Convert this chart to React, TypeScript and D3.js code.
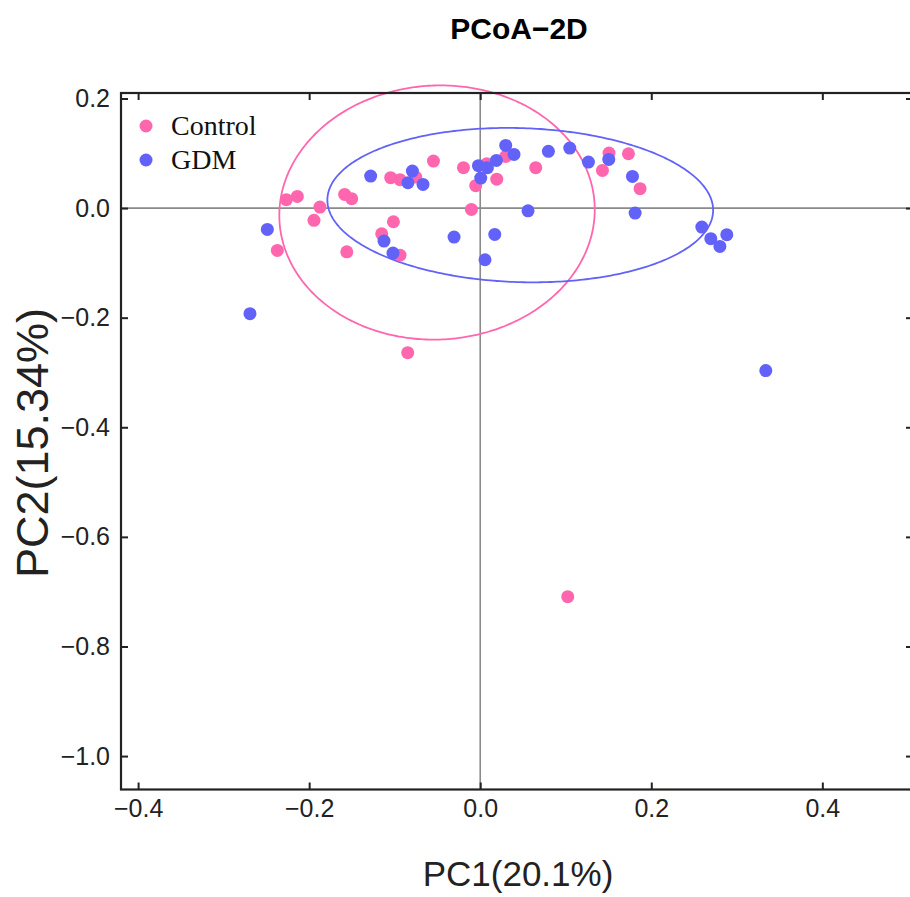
import React, { useEffect, useRef } from 'react';
import * as d3 from 'd3';

// sample scores (PC1, PC2)
const controlPC1 = [-0.2267, -0.2138, -0.1874, -0.1944, -0.2372, -0.156, -0.1585, -0.1503, -0.1015, -0.1152,
  -0.0938, -0.1047, -0.0938, -0.0754, -0.0547, -0.0196, -0.0053, -0.0103, 0.0076, 0.0193,
  0.0298, 0.0649, 0.1506, 0.1733, 0.1429, 0.1869, -0.0848, 0.1023];
const controlPC2 = [0.0153, 0.0213, 0.0018, -0.0224, -0.0772, -0.0799, 0.025, 0.0171, -0.025, -0.0469,
  -0.086, 0.0555, 0.0518, 0.0566, 0.0858, 0.0737, 0.0409, -0.0024, 0.0809, 0.0527,
  0.0943, 0.0737, 0.1004, 0.0991, 0.0688, 0.0354, -0.2639, -0.7091];

const gdmPC1 = [-0.2489, -0.1281, -0.1125, -0.102, -0.0793, -0.0845, -0.0669, -0.0021, 0.0084, 0.0189,
  0.0298, 0.0395, 0.0006, 0.0797, 0.1047, 0.1265, 0.1503, 0.178, 0.1811, 0.0559,
  -0.0306, 0.017, 0.0056, 0.2591, 0.2696, 0.2802, 0.2883, -0.2692, 0.3339];
const gdmPC2 = [-0.0389, 0.0584, -0.0602, -0.0821, 0.0675, 0.0462, 0.0432, 0.0774, 0.0737, 0.087,
  0.1144, 0.0979, 0.0547, 0.1035, 0.1095, 0.0839, 0.0888, 0.0578, -0.0091, -0.0051,
  -0.053, -0.048, -0.0943, -0.0347, -0.0559, -0.0699, -0.0485, -0.1927, -0.2966];

// confidence ellipses: [cx, cy, A, B, C] -> x = cx + A cos t, y = cy + B cos t + C sin t
const controlEllipse = [-0.0505, -0.0081, 0.1844, 0.0052, 0.2319];
const gdmEllipse = [0.0468, 0.0054, 0.2255, -0.0092, 0.1406];

const groups = ['Control', 'GDM'];
const groupColors = ['#FF66AE', '#6262F9'];

const xTicks = [-0.4, -0.2, 0.0, 0.2, 0.4];
const yTicks = [0.2, 0.0, -0.2, -0.4, -0.6, -0.8, -1.0];

export default function App() {
  const svgRef = useRef(null);

  useEffect(() => {
    const W = 910;
    const H = 897;
    const left = 121;
    const right = 913;
    const top = 93;
    const bottom = 789.5;

    const svg = d3.select(svgRef.current);
    svg.selectAll('*').remove();

    const x = d3.scaleLinear().domain([-0.42, 0.506]).range([left, right]);
    const y = d3.scaleLinear().domain([0.21, -1.061]).range([top, bottom]);

    svg.append('rect').attr('width', W).attr('height', H).attr('fill', '#fff');

    // zero reference lines
    svg.append('line')
      .attr('x1', x(0)).attr('x2', x(0)).attr('y1', top).attr('y2', bottom)
      .attr('stroke', '#8a8a8a').attr('stroke-width', 1.6);
    svg.append('line')
      .attr('x1', left).attr('x2', right).attr('y1', y(0)).attr('y2', y(0))
      .attr('stroke', '#8a8a8a').attr('stroke-width', 1.6);

    // ellipses
    const ts = d3.range(0, 2 * Math.PI + 0.001, Math.PI / 180);
    const ellipseLine = d3.line<number[]>().x((d) => x(d[0])).y((d) => y(d[1]));
    [controlEllipse, gdmEllipse].forEach((e, i) => {
      const pts = ts.map((t) => [e[0] + e[2] * Math.cos(t), e[1] + e[3] * Math.cos(t) + e[4] * Math.sin(t)]);
      svg.append('path')
        .attr('d', ellipseLine(pts))
        .attr('fill', 'none')
        .attr('stroke', groupColors[i])
        .attr('stroke-width', 1.8);
    });

    // points
    const series = [
      { xs: controlPC1, ys: controlPC2, color: groupColors[0] },
      { xs: gdmPC1, ys: gdmPC2, color: groupColors[1] },
    ];
    series.forEach((s) => {
      svg.append('g')
        .selectAll('circle')
        .data(s.xs.map((v, i) => [v, s.ys[i]]))
        .enter()
        .append('circle')
        .attr('cx', (d) => x(d[0]))
        .attr('cy', (d) => y(d[1]))
        .attr('r', 6.5)
        .attr('fill', s.color);
    });

    // axes with inward ticks
    const fmt = d3.format('.1f');
    const styleAxis = (g) => {
      g.select('.domain').remove();
      g.selectAll('.tick line').attr('stroke', '#222').attr('stroke-width', 2);
      g.selectAll('.tick text')
        .attr('fill', '#222')
        .attr('font-family', 'Liberation Sans, Arial, sans-serif')
        .attr('font-size', 25);
    };

    svg.append('g')
      .attr('transform', `translate(0,${bottom})`)
      .call(d3.axisBottom(x).tickValues(xTicks).tickFormat(fmt).tickSizeInner(-7).tickSizeOuter(0).tickPadding(10))
      .call(styleAxis);
    svg.append('g')
      .attr('transform', `translate(0,${top})`)
      .call(d3.axisTop(x).tickValues(xTicks).tickFormat(() => '').tickSizeInner(-7).tickSizeOuter(0))
      .call(styleAxis);
    svg.append('g')
      .attr('transform', `translate(${left},0)`)
      .call(d3.axisLeft(y).tickValues(yTicks).tickFormat(fmt).tickSizeInner(-7).tickSizeOuter(0).tickPadding(11))
      .call(styleAxis);
    svg.append('g')
      .attr('transform', `translate(${right},0)`)
      .call(d3.axisRight(y).tickValues(yTicks).tickFormat(() => '').tickSizeInner(-7).tickSizeOuter(0))
      .call(styleAxis);

    // frame
    svg.append('rect')
      .attr('x', left).attr('y', top)
      .attr('width', right - left).attr('height', bottom - top)
      .attr('fill', 'none').attr('stroke', '#222').attr('stroke-width', 2.2);

    // legend
    const legend = svg.append('g');
    groups.forEach((name, i) => {
      legend.append('circle')
        .attr('cx', 146).attr('cy', 126 + i * 34)
        .attr('r', 6.5)
        .attr('fill', groupColors[i]);
      legend.append('text')
        .attr('x', 171).attr('y', 135 + i * 34)
        .attr('font-family', 'Liberation Serif, Times New Roman, serif')
        .attr('font-size', 28)
        .attr('fill', '#111')
        .text(name);
    });

    // titles
    svg.append('text')
      .attr('x', 519).attr('y', 39)
      .attr('text-anchor', 'middle')
      .attr('font-family', 'Liberation Sans, Arial, sans-serif')
      .attr('font-weight', 'bold')
      .attr('font-size', 30)
      .attr('fill', '#000')
      .text('PCoA\u22122D');

    svg.append('text')
      .attr('x', 518).attr('y', 886)
      .attr('text-anchor', 'middle')
      .attr('font-family', 'Liberation Sans, Arial, sans-serif')
      .attr('font-size', 35)
      .attr('fill', '#222')
      .text('PC1(20.1%)');

    svg.append('text')
      .attr('transform', `translate(48,443) rotate(-90)`)
      .attr('text-anchor', 'middle')
      .attr('font-family', 'Liberation Sans, Arial, sans-serif')
      .attr('font-size', 45)
      .attr('fill', '#222')
      .text('PC2(15.34%)');
  }, []);

  return (
    <div id="pcoa">
      <svg ref={svgRef} width={910} height={897} style={{ position: 'absolute', left: 0, top: 0 }} />
    </div>
  );
}
